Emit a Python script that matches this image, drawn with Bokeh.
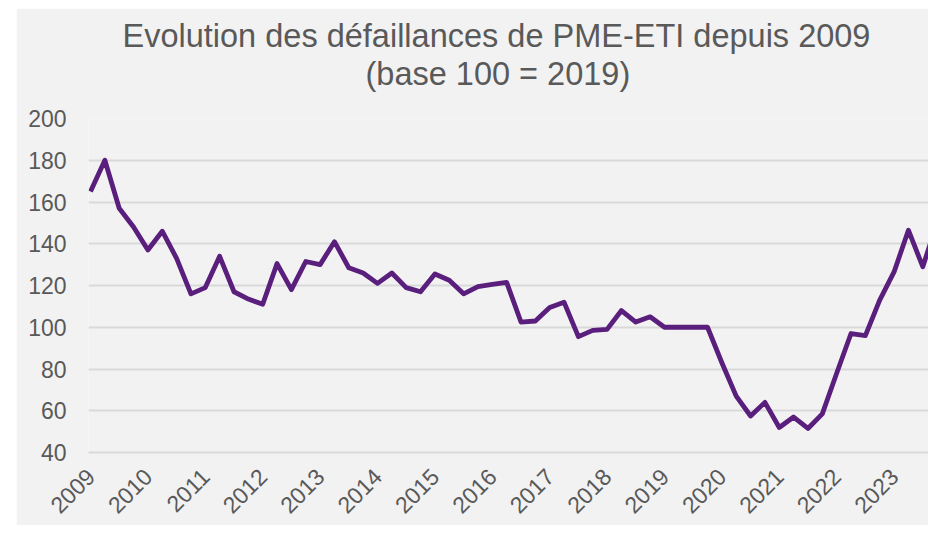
from math import pi
from bokeh.plotting import figure
from bokeh.models import Range1d, FixedTicker, Title
from bokeh.embed import file_html
from bokeh.resources import INLINE

# Quarterly index of PME-ETI failures (base 100 = 2019), 2009Q1 .. 2023Q4
years = ["2009", "2010", "2011", "2012", "2013", "2014", "2015", "2016",
         "2017", "2018", "2019", "2020", "2021", "2022", "2023"]
values = [165, 180, 157, 148, 137, 146, 133, 116,
          119, 134, 117, 113.5, 111, 130.5, 118, 131.5,
          130, 141, 128.5, 126, 121, 126, 119, 117,
          125.5, 122.5, 116, 119.5, 120.5, 121.5, 102.5, 103,
          109.5, 112, 95.5, 98.5, 99, 108, 102.5, 105,
          100, 100, 100, 100, 83, 67, 57.5, 64,
          52, 57, 51.5, 58.5, 78, 97, 96, 113,
          126.5, 146.5, 129, 150]
y_ticks = [40, 60, 80, 100, 120, 140, 160, 180, 200]
title_lines = ["Evolution des défaillances de PME-ETI depuis 2009",
               "(base 100 = 2019)"]

x = list(range(len(values)))
year_pos = [4 * i for i in range(len(years))]

FONT = "Liberation Sans"
GREY_TXT = "#595959"
BG = "#F2F2F2"

p = figure(width=912, height=517, output_backend="svg", toolbar_location=None,
           x_range=Range1d(-0.14, 58.4), y_range=Range1d(40, 200),
           background_fill_color=BG, border_fill_color=BG,
           min_border_left=72, min_border_right=0,
           min_border_top=110, min_border_bottom=73)
p.margin = (8, 0, 0, 16)
p.outline_line_color = None

p.line(x, values, line_color="#5A1E7D", line_width=4.8, line_join="round")

# spacer between plot area and title block, then the two title lines
p.add_layout(Title(text=" ", text_font_size="1px", standoff=23), "above")
p.add_layout(Title(text=title_lines[1], align="left", offset=277,
                   text_font=FONT, text_font_size="32.5px", text_font_style="normal",
                   text_color=GREY_TXT, standoff=1), "above")
p.add_layout(Title(text=title_lines[0], align="left", offset=34,
                   text_font=FONT, text_font_size="32.5px", text_font_style="normal",
                   text_color=GREY_TXT, standoff=0), "above")

p.xaxis.ticker = FixedTicker(ticks=year_pos)
p.xaxis.major_label_overrides = {pos: y for pos, y in zip(year_pos, years)}
p.xaxis.major_label_orientation = pi / 4
p.xaxis.axis_line_color = "#D9D9D9"
p.xaxis.axis_line_width = 2
p.xaxis.major_tick_line_color = None
p.xaxis.minor_tick_line_color = None
p.xaxis.major_label_standoff = 14
p.xaxis.major_label_text_font = FONT
p.xaxis.major_label_text_font_size = "23px"
p.xaxis.major_label_text_color = GREY_TXT

p.yaxis.ticker = FixedTicker(ticks=y_ticks)
p.yaxis.axis_line_color = None
p.yaxis.major_tick_line_color = None
p.yaxis.minor_tick_line_color = None
p.yaxis.major_label_standoff = 16
p.yaxis.major_label_text_font = FONT
p.yaxis.major_label_text_font_size = "23px"
p.yaxis.major_label_text_color = GREY_TXT

p.xgrid.grid_line_color = None
p.ygrid.grid_line_color = "#D9D9D9"
p.ygrid.grid_line_width = 2

open("out.html", "w").write(file_html(p, INLINE))
